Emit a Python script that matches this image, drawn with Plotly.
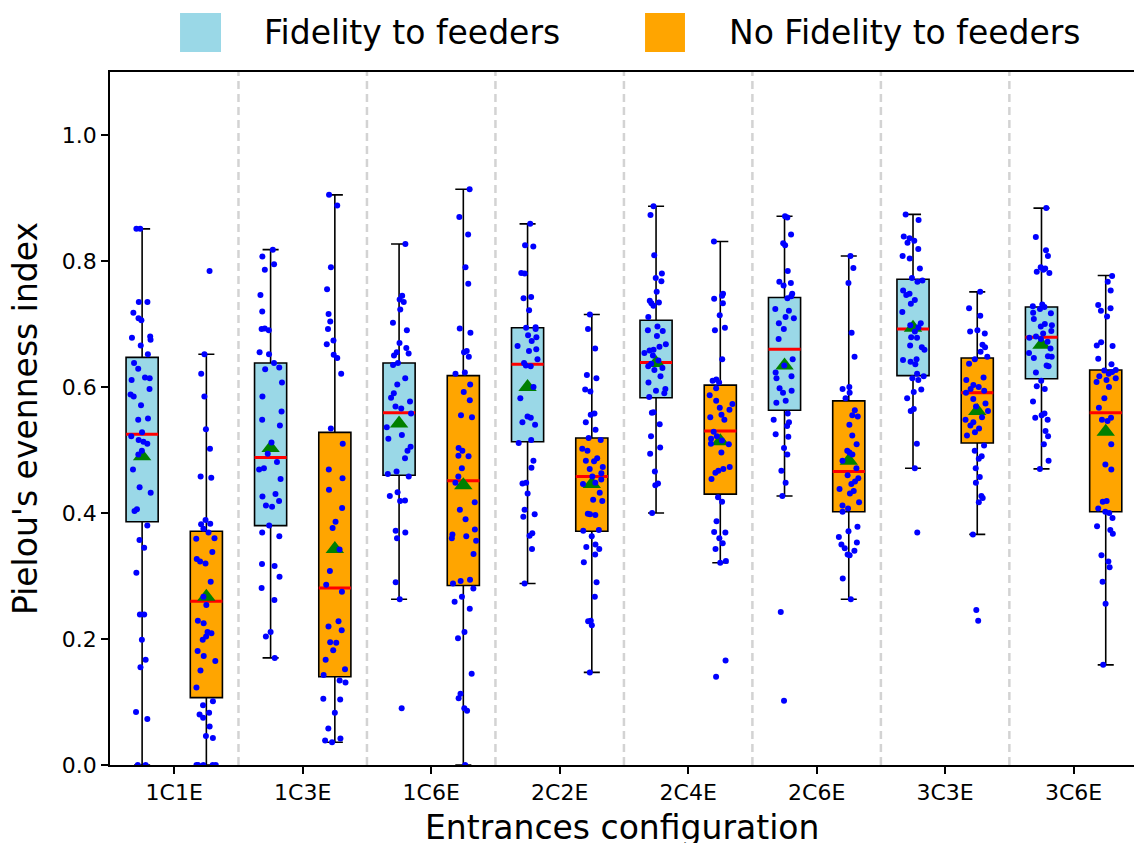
import plotly.graph_objects as go

categories = ["1C1E", "1C3E", "1C6E", "2C2E", "2C4E", "2C6E", "3C3E", "3C6E"]
group_names = ["Fidelity to feeders", "No Fidelity to feeders"]
x_title = "Entrances configuration"
y_title = "Pielou's evenness index"

fid_1C1E = [0.851, 0.851, 0.735, 0.735, 0.718, 0.709, 0.706, 0.680, 0.678, 0.675, 0.666, 0.652, 0.638, 0.629,
            0.615, 0.614, 0.611, 0.597, 0.588, 0.585, 0.571, 0.550, 0.548, 0.528, 0.522, 0.516, 0.513, 0.510,
            0.499, 0.493, 0.469, 0.441, 0.432, 0.406, 0.403, 0.380, 0.357, 0.345, 0.305, 0.239, 0.239, 0.199,
            0.167, 0.155, 0.084, 0.073, 0.0, 0.0]
nof_1C1E = [0.784, 0.652, 0.621, 0.585, 0.533, 0.502, 0.458, 0.456, 0.389, 0.383, 0.382, 0.375, 0.369, 0.360,
            0.359, 0.338, 0.327, 0.323, 0.320, 0.291, 0.267, 0.254, 0.229, 0.225, 0.211, 0.209, 0.204, 0.199,
            0.181, 0.173, 0.165, 0.150, 0.123, 0.101, 0.095, 0.083, 0.080, 0.075, 0.061, 0.046, 0.043,
            0.0, 0.0, 0.0, 0.0, 0.0]
fid_1C3E = [0.818, 0.807, 0.795, 0.786, 0.746, 0.720, 0.693, 0.692, 0.690, 0.655, 0.652, 0.638, 0.631, 0.628,
            0.607, 0.585, 0.561, 0.548, 0.539, 0.512, 0.494, 0.481, 0.471, 0.469, 0.454, 0.430, 0.426, 0.419,
            0.412, 0.410, 0.380, 0.369, 0.363, 0.319, 0.316, 0.299, 0.281, 0.262, 0.211, 0.204, 0.170]
nof_1C3E = [0.905, 0.888, 0.790, 0.755, 0.716, 0.704, 0.692, 0.674, 0.668, 0.651, 0.646, 0.621, 0.534, 0.510,
            0.469, 0.455, 0.437, 0.408, 0.386, 0.376, 0.342, 0.308, 0.286, 0.275, 0.228, 0.220, 0.214, 0.195,
            0.194, 0.182, 0.167, 0.152, 0.143, 0.134, 0.131, 0.105, 0.104, 0.083, 0.058, 0.042, 0.039, 0.036]
fid_1C6E = [0.827, 0.745, 0.739, 0.735, 0.723, 0.702, 0.690, 0.670, 0.662, 0.655, 0.653, 0.650, 0.638, 0.635,
            0.614, 0.604, 0.590, 0.583, 0.577, 0.569, 0.566, 0.558, 0.536, 0.524, 0.518, 0.505, 0.499, 0.487,
            0.466, 0.462, 0.458, 0.433, 0.427, 0.420, 0.419, 0.372, 0.369, 0.360, 0.290, 0.263, 0.090]
nof_1C6E = [0.914, 0.870, 0.842, 0.790, 0.764, 0.693, 0.686, 0.657, 0.655, 0.648, 0.623, 0.621, 0.604, 0.592,
            0.579, 0.555, 0.552, 0.503, 0.499, 0.491, 0.490, 0.471, 0.458, 0.448, 0.417, 0.405, 0.390, 0.374,
            0.366, 0.363, 0.360, 0.356, 0.335, 0.294, 0.292, 0.288, 0.280, 0.267, 0.259, 0.248, 0.211, 0.201,
            0.145, 0.113, 0.106, 0.090, 0.086, 0.0]
fid_2C2E = [0.859, 0.825, 0.823, 0.781, 0.780, 0.743, 0.741, 0.722, 0.695, 0.694, 0.692, 0.682, 0.679, 0.673,
            0.665, 0.660, 0.657, 0.644, 0.638, 0.634, 0.633, 0.600, 0.582, 0.553, 0.551, 0.544, 0.540, 0.516,
            0.511, 0.483, 0.472, 0.448, 0.447, 0.431, 0.405, 0.398, 0.394, 0.368, 0.364, 0.343, 0.288]
nof_2C2E = [0.715, 0.692, 0.661, 0.619, 0.614, 0.596, 0.593, 0.558, 0.556, 0.544, 0.532, 0.519, 0.516, 0.502,
            0.499, 0.487, 0.483, 0.482, 0.473, 0.470, 0.463, 0.458, 0.453, 0.448, 0.446, 0.432, 0.421, 0.419,
            0.399, 0.398, 0.397, 0.373, 0.372, 0.363, 0.350, 0.346, 0.343, 0.334, 0.322, 0.290, 0.267, 0.229,
            0.228, 0.222, 0.147]
fid_2C4E = [0.887, 0.873, 0.809, 0.780, 0.773, 0.768, 0.751, 0.737, 0.734, 0.733, 0.729, 0.711, 0.696, 0.690,
            0.689, 0.681, 0.668, 0.664, 0.659, 0.658, 0.654, 0.650, 0.642, 0.637, 0.633, 0.630, 0.627, 0.617,
            0.607, 0.597, 0.594, 0.590, 0.584, 0.560, 0.559, 0.541, 0.522, 0.504, 0.494, 0.466, 0.447, 0.444,
            0.400]
nof_2C4E = [0.831, 0.748, 0.745, 0.740, 0.733, 0.714, 0.694, 0.690, 0.644, 0.612, 0.610, 0.607, 0.598, 0.587,
            0.578, 0.573, 0.567, 0.564, 0.556, 0.552, 0.548, 0.529, 0.522, 0.518, 0.515, 0.510, 0.509, 0.496,
            0.473, 0.470, 0.467, 0.464, 0.454, 0.425, 0.418, 0.387, 0.370, 0.369, 0.360, 0.352, 0.343, 0.324,
            0.321, 0.166, 0.140]
fid_2C6E = [0.871, 0.869, 0.842, 0.828, 0.825, 0.784, 0.767, 0.765, 0.761, 0.748, 0.744, 0.741, 0.724, 0.721,
            0.711, 0.709, 0.701, 0.692, 0.676, 0.644, 0.634, 0.623, 0.617, 0.614, 0.598, 0.594, 0.591, 0.578,
            0.575, 0.558, 0.548, 0.544, 0.538, 0.525, 0.521, 0.503, 0.493, 0.467, 0.448, 0.427, 0.243, 0.102]
nof_2C6E = [0.808, 0.789, 0.765, 0.686, 0.648, 0.600, 0.597, 0.591, 0.582, 0.563, 0.555, 0.553, 0.540, 0.523,
            0.509, 0.499, 0.496, 0.493, 0.483, 0.471, 0.460, 0.455, 0.450, 0.446, 0.438, 0.435, 0.431, 0.417,
            0.412, 0.407, 0.402, 0.378, 0.371, 0.362, 0.353, 0.350, 0.344, 0.340, 0.334, 0.333, 0.296, 0.263]
fid_3C3E = [0.874, 0.865, 0.839, 0.836, 0.832, 0.829, 0.819, 0.808, 0.804, 0.788, 0.773, 0.769, 0.767, 0.753,
            0.748, 0.746, 0.738, 0.732, 0.719, 0.701, 0.698, 0.695, 0.688, 0.679, 0.678, 0.666, 0.663, 0.659,
            0.644, 0.643, 0.640, 0.636, 0.621, 0.617, 0.614, 0.611, 0.596, 0.592, 0.582, 0.565, 0.562, 0.510,
            0.471, 0.369]
nof_3C3E = [0.751, 0.725, 0.713, 0.690, 0.688, 0.685, 0.667, 0.663, 0.656, 0.648, 0.644, 0.637, 0.615, 0.611,
            0.603, 0.600, 0.597, 0.594, 0.591, 0.581, 0.574, 0.569, 0.562, 0.552, 0.548, 0.544, 0.539, 0.534,
            0.528, 0.523, 0.507, 0.499, 0.490, 0.486, 0.471, 0.457, 0.448, 0.427, 0.424, 0.417, 0.366, 0.246,
            0.229]
fid_3C6E = [0.884, 0.838, 0.817, 0.808, 0.790, 0.788, 0.786, 0.783, 0.781, 0.731, 0.728, 0.727, 0.724, 0.718,
            0.717, 0.708, 0.700, 0.698, 0.696, 0.689, 0.685, 0.680, 0.678, 0.676, 0.672, 0.661, 0.654, 0.649,
            0.648, 0.646, 0.634, 0.633, 0.623, 0.610, 0.601, 0.597, 0.577, 0.558, 0.555, 0.551, 0.548, 0.530,
            0.522, 0.509, 0.483, 0.470]
nof_3C6E = [0.776, 0.767, 0.753, 0.730, 0.725, 0.721, 0.712, 0.671, 0.666, 0.665, 0.645, 0.636, 0.627, 0.626,
            0.624, 0.621, 0.617, 0.614, 0.611, 0.608, 0.600, 0.582, 0.567, 0.551, 0.548, 0.546, 0.509, 0.477,
            0.469, 0.419, 0.418, 0.407, 0.402, 0.400, 0.392, 0.379, 0.373, 0.367, 0.333, 0.323, 0.314, 0.291,
            0.256, 0.159]

fid_points = [fid_1C1E, fid_1C3E, fid_1C6E, fid_2C2E, fid_2C4E, fid_2C6E, fid_3C3E, fid_3C6E]
nof_points = [nof_1C1E, nof_1C3E, nof_1C6E, nof_2C2E, nof_2C4E, nof_2C6E, nof_3C3E, nof_3C6E]

# ---- box statistics ----
fid_q1 = [0.386, 0.380, 0.460, 0.513, 0.583, 0.563, 0.618, 0.613]
fid_median = [0.525, 0.488, 0.559, 0.636, 0.639, 0.660, 0.692, 0.679]
fid_q3 = [0.647, 0.638, 0.638, 0.694, 0.706, 0.742, 0.771, 0.727]
fid_low = [0.0, 0.170, 0.263, 0.288, 0.400, 0.427, 0.471, 0.470]
fid_high = [0.851, 0.818, 0.827, 0.859, 0.887, 0.871, 0.874, 0.884]
fid_mean = [0.490, 0.503, 0.542, 0.600, 0.638, 0.634, 0.694, 0.667]

nof_q1 = [0.107, 0.140, 0.285, 0.371, 0.430, 0.402, 0.511, 0.402]
nof_median = [0.260, 0.281, 0.451, 0.458, 0.530, 0.466, 0.591, 0.559]
nof_q3 = [0.371, 0.528, 0.618, 0.519, 0.603, 0.578, 0.646, 0.627]
nof_low = [0.0, 0.036, 0.0, 0.147, 0.321, 0.263, 0.366, 0.159]
nof_high = [0.652, 0.905, 0.914, 0.715, 0.831, 0.808, 0.751, 0.777]
nof_mean = [0.267, 0.343, 0.444, 0.446, 0.514, 0.483, 0.562, 0.529]

y_ticks = [0.0, 0.2, 0.4, 0.6, 0.8, 1.0]

FID_COLOR = "#9AD8E7"
NOF_COLOR = "#FFA500"
FONT = "DejaVu Sans"
CLEAR = "rgba(0,0,0,0)"

groups = [
    ("fid", FID_COLOR, fid_q1, fid_median, fid_q3, fid_low, fid_high, fid_mean, fid_points),
    ("nof", NOF_COLOR, nof_q1, nof_median, nof_q3, nof_low, nof_high, nof_mean, nof_points),
]

fig = go.Figure()

# boxes
for key, color, q1, med, q3, lo, hi, mean, pts in groups:
    fig.add_trace(go.Box(
        x=categories, q1=q1, median=med, q3=q3, lowerfence=lo, upperfence=hi,
        fillcolor=color, line=dict(color="black", width=1.6), whiskerwidth=0.5,
        boxpoints=False, offsetgroup=key, showlegend=False, hoverinfo="skip"))
# medians (red)
for key, color, q1, med, q3, lo, hi, mean, pts in groups:
    fig.add_trace(go.Box(
        x=categories, q1=med, median=med, q3=med, lowerfence=med, upperfence=med,
        fillcolor=CLEAR, line=dict(color="red", width=3), whiskerwidth=0,
        boxpoints=False, offsetgroup=key, showlegend=False, hoverinfo="skip"))
# means (green triangles)
for key, color, q1, med, q3, lo, hi, mean, pts in groups:
    fig.add_trace(go.Box(
        x=categories, y=mean, boxpoints="all", jitter=0, pointpos=0,
        marker=dict(symbol="triangle-up", color="green", size=16),
        fillcolor=CLEAR, line=dict(color=CLEAR, width=0),
        offsetgroup=key, showlegend=False, hoverinfo="skip"))
# individual points
for key, color, q1, med, q3, lo, hi, mean, pts in groups:
    xs, ys = [], []
    for cat, vals in zip(categories, pts):
        xs += [cat] * len(vals)
        ys += vals
    fig.add_trace(go.Box(
        x=xs, y=ys, boxpoints="all", jitter=0.85, pointpos=0,
        marker=dict(color="blue", size=6),
        fillcolor=CLEAR, line=dict(color=CLEAR, width=0),
        offsetgroup=key, showlegend=False, hoverinfo="skip"))

# dashed separators between categories
shapes = []
for i in range(len(categories) - 1):
    shapes.append(dict(type="line", xref="x", yref="paper", x0=i + 0.5, x1=i + 0.5, y0=0, y1=1,
                       line=dict(color="#d3d3d3", width=2.5, dash="8px,5px"), layer="below"))

# legend (drawn manually: tall colour patches + labels)
legend_items = [(FID_COLOR, 0.0684, 0.1084, 0.1484), (NOF_COLOR, 0.5225, 0.5615, 0.6025)]
annotations = []
for (color, xa, xb, xt), name in zip(legend_items, group_names):
    shapes.append(dict(type="rect", xref="paper", yref="paper", x0=xa, x1=xb, y0=1.029, y1=1.085,
                       fillcolor=color, line=dict(width=0)))
    annotations.append(dict(xref="paper", yref="paper", x=xt, y=1.0565, text=name, showarrow=False,
                            xanchor="left", yanchor="middle", font=dict(size=33, color="black", family=FONT)))

# x-axis title placed like the reference (partly below the page edge)
annotations.append(dict(xref="paper", yref="paper", x=0.5, y=-0.0905, text=x_title, showarrow=False,
                        xanchor="center", yanchor="middle", font=dict(size=33, color="black", family=FONT)))

fig.update_layout(
    width=1134, height=843,
    margin=dict(l=110, r=0, t=72, b=78),
    paper_bgcolor="white", plot_bgcolor="white",
    boxmode="group", boxgap=0, boxgroupgap=0.5,
    font=dict(family=FONT, color="black"),
    shapes=shapes, annotations=annotations,
    showlegend=False,
)
fig.update_xaxes(
    type="category", categoryorder="array", categoryarray=categories,
    range=[-0.5, 7.47], showgrid=False, zeroline=False,
    showline=True, linecolor="black", linewidth=1.5, mirror=True,
    ticks="outside", ticklen=7, tickwidth=1.5, tickcolor="black",
    tickfont=dict(size=22, family=FONT, color="black"),
    automargin=False,
)
fig.update_yaxes(
    range=[0, 1.1], tickvals=y_ticks, ticktext=[f"{v:.1f}" for v in y_ticks],
    showgrid=False, zeroline=False,
    showline=True, linecolor="black", linewidth=1.5, mirror=False,
    ticks="outside", ticklen=7, tickwidth=1.5, tickcolor="black",
    tickfont=dict(size=22, family=FONT, color="black"),
    title=dict(text=y_title, font=dict(size=33, family=FONT, color="black"), standoff=14),
    automargin=False,
)

fig.write_html("out.html", config={"displayModeBar": False},
               post_script="document.body.style.margin='0';document.body.style.overflow='hidden';")
